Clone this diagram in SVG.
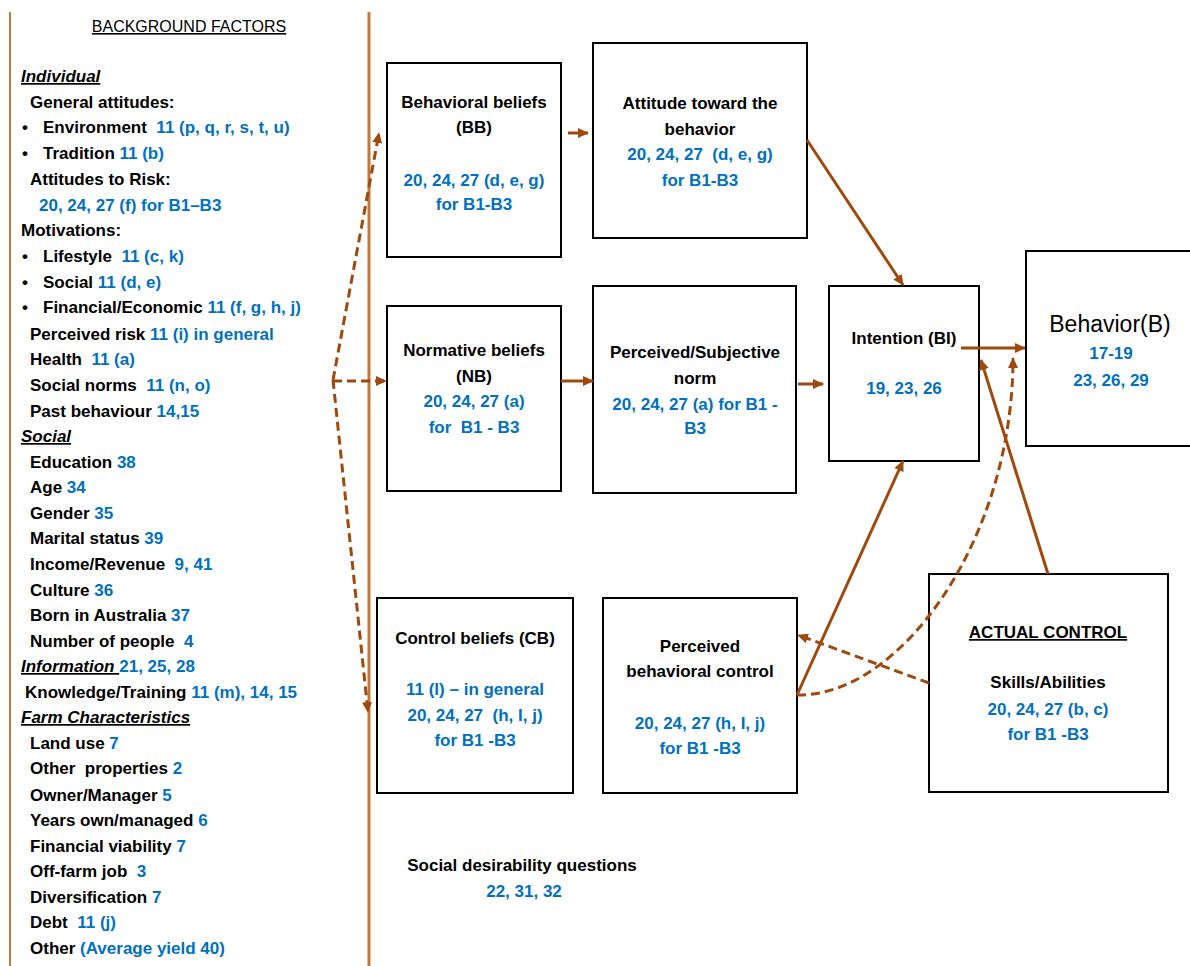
<svg xmlns="http://www.w3.org/2000/svg" width="1190" height="966" viewBox="0 0 1190 966">
<style>
text{font-family:"Liberation Sans",Arial,sans-serif;font-size:17px;font-weight:bold;fill:#000;white-space:pre}
.b{fill:#0070C0}
.c{text-anchor:middle}
.u{text-decoration:underline}
.i{font-style:italic}
.box{fill:#fff;stroke:#000;stroke-width:2}
.sep{stroke:#C07A40;fill:none}
.con{stroke:#9E4A0E;stroke-width:3;fill:none}
.dash{stroke-dasharray:9,5}
</style>
<defs>
<marker id="ah" markerWidth="11" markerHeight="10" refX="10" refY="5" orient="auto" markerUnits="userSpaceOnUse">
<path d="M0,0 L11,5 L0,10 z" fill="#9E4A0E"/>
</marker>
</defs>
<rect width="1190" height="966" fill="#fff"/>
<g id="separators">
<line class="sep" x1="10" y1="12" x2="10" y2="966" stroke-width="2"/>
<line class="sep" x1="369" y1="12" x2="369" y2="966" stroke-width="3"/>
</g>
<g id="background-factors">
<text x="189" y="32" class="c u" style="font-weight:normal;font-size:16px">BACKGROUND FACTORS</text>
<text x="21" y="82" class="i u">Individual</text>
<text x="30" y="108">General attitudes:</text>
<text><tspan x="22" y="133">•</tspan><tspan x="43" y="133">Environment  </tspan><tspan class="b">11 (p, q, r, s, t, u)</tspan></text>
<text><tspan x="22" y="159">•</tspan><tspan x="43" y="159">Tradition </tspan><tspan class="b">11 (b)</tspan></text>
<text x="30" y="185">Attitudes to Risk:</text>
<text x="39" y="211" class="b">20, 24, 27 (f) for B1–B3</text>
<text x="21" y="236">Motivations:</text>
<text><tspan x="22" y="262">•</tspan><tspan x="43" y="262">Lifestyle  </tspan><tspan class="b">11 (c, k)</tspan></text>
<text><tspan x="22" y="288">•</tspan><tspan x="43" y="288">Social </tspan><tspan class="b">11 (d, e)</tspan></text>
<text><tspan x="22" y="313">•</tspan><tspan x="43" y="313">Financial/Economic </tspan><tspan class="b">11 (f, g, h, j)</tspan></text>
<text x="30" y="340">Perceived risk <tspan class="b">11 (i) in general</tspan></text>
<text x="30" y="365">Health  <tspan class="b">11 (a)</tspan></text>
<text x="30" y="391">Social norms  <tspan class="b">11 (n, o)</tspan></text>
<text x="30" y="417">Past behaviour <tspan class="b">14,15</tspan></text>
<text x="21" y="442" class="i u">Social</text>
<text x="30" y="468">Education <tspan class="b">38</tspan></text>
<text x="30" y="493">Age <tspan class="b">34</tspan></text>
<text x="30" y="519">Gender <tspan class="b">35</tspan></text>
<text x="30" y="544">Marital status <tspan class="b">39</tspan></text>
<text x="30" y="570">Income/Revenue  <tspan class="b">9, 41</tspan></text>
<text x="30" y="596">Culture <tspan class="b">36</tspan></text>
<text x="30" y="621">Born in Australia <tspan class="b">37</tspan></text>
<text x="30" y="647">Number of people  <tspan class="b">4</tspan></text>
<text x="21" y="672"><tspan class="i u">Information </tspan><tspan class="b">21, 25, 28</tspan></text>
<text x="25" y="698">Knowledge/Training <tspan class="b">11 (m), 14, 15</tspan></text>
<text x="21" y="723" class="i u">Farm Characteristics</text>
<text x="30" y="749">Land use <tspan class="b">7</tspan></text>
<text x="30" y="774">Other  properties <tspan class="b">2</tspan></text>
<text x="30" y="801">Owner/Manager <tspan class="b">5</tspan></text>
<text x="30" y="826">Years own/managed <tspan class="b">6</tspan></text>
<text x="30" y="852">Financial viability <tspan class="b">7</tspan></text>
<text x="30" y="877">Off-farm job  <tspan class="b">3</tspan></text>
<text x="30" y="903">Diversification <tspan class="b">7</tspan></text>
<text x="30" y="928">Debt  <tspan class="b">11 (j)</tspan></text>
<text x="30" y="954">Other <tspan class="b">(Average yield 40)</tspan></text>
</g>
<g id="behavioral-beliefs">
<rect class="box" x="387" y="63" width="174" height="194"/>
<text x="474" y="108" class="c">Behavioral beliefs</text>
<text x="474" y="133" class="c">(BB)</text>
<text x="474" y="186" class="c b">20, 24, 27 (d, e, g)</text>
<text x="474" y="210" class="c b">for B1-B3</text>
</g>
<g id="attitude">
<rect class="box" x="593" y="43" width="214" height="195"/>
<text x="700" y="109" class="c">Attitude toward the</text>
<text x="700" y="135" class="c">behavior</text>
<text x="700" y="160" class="c b">20, 24, 27  (d, e, g)</text>
<text x="700" y="186" class="c b">for B1-B3</text>
</g>
<g id="normative-beliefs">
<rect class="box" x="387" y="306" width="174" height="185"/>
<text x="474" y="356" class="c">Normative beliefs</text>
<text x="474" y="382" class="c">(NB)</text>
<text x="474" y="407" class="c b">20, 24, 27 (a)</text>
<text x="474" y="433" class="c b">for  B1 - B3</text>
</g>
<g id="subjective-norm">
<rect class="box" x="593" y="286" width="203" height="207"/>
<text x="695" y="358" class="c">Perceived/Subjective</text>
<text x="695" y="384" class="c">norm</text>
<text x="695" y="410" class="c b">20, 24, 27 (a) for B1 -</text>
<text x="695" y="434" class="c b">B3</text>
</g>
<g id="intention">
<rect class="box" x="829" y="286" width="150" height="175"/>
<text x="904" y="344" class="c">Intention (BI)</text>
<text x="904" y="394" class="c b">19, 23, 26</text>
</g>
<g id="behavior">
<rect class="box" x="1026" y="251" width="175" height="195"/>
<text x="1110" y="332" class="c" style="font-weight:normal;font-size:23px">Behavior(B)</text>
<text x="1111" y="359" class="c b">17-19</text>
<text x="1111" y="386" class="c b">23, 26, 29</text>
</g>
<g id="control-beliefs">
<rect class="box" x="377" y="598" width="196" height="195"/>
<text x="475" y="644" class="c">Control beliefs (CB)</text>
<text x="475" y="695" class="c b">11 (l) – in general</text>
<text x="475" y="721" class="c b">20, 24, 27  (h, I, j)</text>
<text x="475" y="746" class="c b">for B1 -B3</text>
</g>
<g id="perceived-behavioral-control">
<rect class="box" x="603" y="598" width="194" height="195"/>
<text x="700" y="652" class="c">Perceived</text>
<text x="700" y="677" class="c">behavioral control</text>
<text x="700" y="729" class="c b">20, 24, 27 (h, I, j)</text>
<text x="700" y="754" class="c b">for B1 -B3</text>
</g>
<g id="actual-control">
<rect class="box" x="929" y="574" width="239" height="218"/>
<text x="1048" y="638" class="c u">ACTUAL CONTROL</text>
<text x="1048" y="688" class="c">Skills/Abilities</text>
<text x="1048" y="715" class="c b">20, 24, 27 (b, c)</text>
<text x="1048" y="740" class="c b">for B1 -B3</text>
</g>
<g id="social-desirability">
<text x="522" y="871" class="c">Social desirability questions</text>
<text x="524" y="897" class="c b">22, 31, 32</text>
</g>
<g id="connectors">
<path class="con" d="M568,133 L588,133" marker-end="url(#ah)"/>
<path class="con" d="M807,140 L903,285" marker-end="url(#ah)"/>
<path class="con" d="M561,381 L593,381" marker-end="url(#ah)"/>
<path class="con" d="M798,384 L823,384" marker-end="url(#ah)"/>
<path class="con" d="M961,348 L1025,348" marker-end="url(#ah)"/>
<path class="con" d="M797,695 L903,461" marker-end="url(#ah)"/>
<path class="con" d="M1048,574 L981,360" marker-end="url(#ah)"/>
<path class="con dash" d="M797,695 C900,697 1013,540 1013,358" marker-end="url(#ah)"/>
<path class="con dash" d="M929,683 L798,635" marker-end="url(#ah)"/>
<path class="con dash" d="M333,380 L379,133" marker-end="url(#ah)"/>
<path class="con dash" d="M333,381 L386,381" marker-end="url(#ah)"/>
<path class="con dash" d="M333,380 L368,712" marker-end="url(#ah)"/>
</g>
</svg>
